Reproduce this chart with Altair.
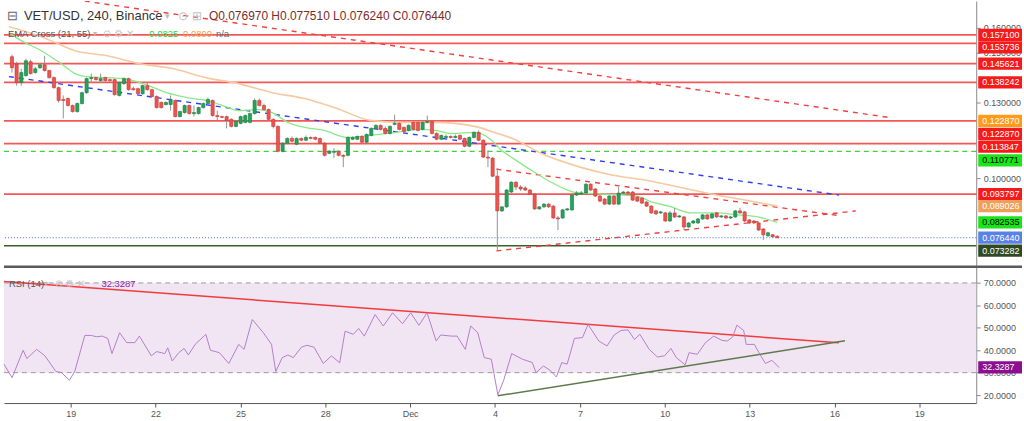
import altair as alt
import pandas as pd

FONT = "Liberation Sans"

# ---------------- data ----------------
# x values are "day" numbers: Nov 19 = 19, Dec 1 = 31, Dec 4 = 34 ...
candle_start = 16.75          # first 240-minute candle
candle_step = 1 / 6           # 4 hours

opens = [0.1484,0.1456,0.1381,0.1409,0.1464,0.1421,0.1440,0.1452,0.1429,0.1401,
         0.1361,0.1314,0.1318,0.1290,0.1266,0.1298,0.1341,0.1397,0.1401,0.1389,
         0.1401,0.1393,0.1393,0.1330,0.1377,0.1397,0.1357,0.1357,0.1337,0.1369,
         0.1353,0.1326,0.1302,0.1294,0.1294,0.1310,0.1246,0.1262,0.1290,0.1258,
         0.1258,0.1282,0.1298,0.1310,0.1250,0.1246,0.1246,0.1235,0.1207,0.1219,
         0.1223,0.1223,0.1258,0.1310,0.1290,0.1274,0.1235,0.1207,0.1108,0.1140,
         0.1159,0.1136,0.1159,0.1152,0.1163,0.1163,0.1159,0.1140,0.1100,0.1104,
         0.1108,0.1092,0.1092,0.1156,0.1156,0.1167,0.1144,0.1171,0.1199,0.1211,
         0.1199,0.1179,0.1215,0.1219,0.1203,0.1191,0.1223,0.1223,0.1195,0.1223,
         0.1227,0.1179,0.1156,0.1163,0.1167,0.1163,0.1171,0.1159,0.1128,0.1163,
         0.1183,0.1152,0.1085,0.1081,0.1009,0.0871,0.0887,0.0946,0.0985,0.0966,
         0.0962,0.0954,0.0938,0.0879,0.0887,0.0898,0.0890,0.0843,0.0843,0.0875,
         0.0875,0.0934,0.0938,0.0942,0.0977,0.0958,0.0930,0.0918,0.0898,0.0930,
         0.0898,0.0942,0.0946,0.0946,0.0926,0.0922,0.0906,0.0890,0.0871,0.0863,
         0.0863,0.0831,0.0863,0.0847,0.0847,0.0807,0.0823,0.0823,0.0839,0.0855,
         0.0843,0.0863,0.0847,0.0851,0.0843,0.0847,0.0871,0.0867,0.0835,0.0831,
         0.0823,0.0799,0.0772,0.0776,0.07697]
highs = [0.1492,0.1464,0.1436,0.1476,0.1472,0.1444,0.1460,0.1488,0.1432,0.1405,
         0.1365,0.1330,0.1322,0.1294,0.1302,0.1345,0.1401,0.1417,0.1405,0.1417,
         0.1405,0.1397,0.1397,0.1385,0.1401,0.1401,0.1365,0.1361,0.1373,0.1381,
         0.1357,0.1330,0.1306,0.1306,0.1330,0.1314,0.1270,0.1294,0.1294,0.1290,
         0.1286,0.1302,0.1322,0.1314,0.1270,0.1250,0.1250,0.1239,0.1231,0.1250,
         0.1254,0.1262,0.1318,0.1318,0.1298,0.1278,0.1239,0.1211,0.1144,0.1163,
         0.1167,0.1163,0.1163,0.1171,0.1167,0.1167,0.1163,0.1144,0.1112,0.1120,
         0.1112,0.1096,0.1167,0.1167,0.1171,0.1171,0.1179,0.1203,0.1215,0.1215,
         0.1207,0.1211,0.1254,0.1223,0.1207,0.1215,0.1227,0.1227,0.1227,0.1250,
         0.1231,0.1183,0.1175,0.1175,0.1171,0.1175,0.1175,0.1163,0.1167,0.1187,
         0.1191,0.1156,0.1112,0.1085,0.1041,0.0890,0.0958,0.0989,0.0989,0.0973,
         0.0969,0.0958,0.0942,0.0890,0.0902,0.0902,0.0894,0.0851,0.0879,0.0883,
         0.0938,0.0950,0.0950,0.0981,0.0981,0.0962,0.0934,0.0922,0.0934,0.0934,
         0.0966,0.0950,0.0950,0.0950,0.0930,0.0926,0.0910,0.0894,0.0875,0.0871,
         0.0867,0.0871,0.0883,0.0855,0.0851,0.0827,0.0835,0.0843,0.0859,0.0859,
         0.0863,0.0867,0.0855,0.0855,0.0851,0.0875,0.0883,0.0871,0.0839,0.0835,
         0.0827,0.0803,0.0788,0.0780,0.07751]
lows = [0.1421,0.1369,0.1369,0.1405,0.1413,0.1417,0.1436,0.1425,0.1397,0.1357,
        0.1302,0.1239,0.1286,0.1262,0.1262,0.1294,0.1337,0.1381,0.1389,0.1381,
        0.1385,0.1385,0.1330,0.1326,0.1373,0.1349,0.1349,0.1333,0.1333,0.1349,
        0.1322,0.1278,0.1278,0.1290,0.1270,0.1243,0.1243,0.1258,0.1254,0.1246,
        0.1254,0.1278,0.1294,0.1246,0.1231,0.1239,0.1199,0.1203,0.1203,0.1215,
        0.1219,0.1219,0.1254,0.1286,0.1270,0.1231,0.1199,0.1104,0.1104,0.1136,
        0.1144,0.1132,0.1148,0.1148,0.1156,0.1152,0.1136,0.1088,0.1096,0.1081,
        0.1088,0.1045,0.1088,0.1152,0.1152,0.1140,0.1140,0.1167,0.1195,0.1191,
        0.1175,0.1175,0.1211,0.1191,0.1183,0.1187,0.1191,0.1187,0.1191,0.1219,
        0.1175,0.1152,0.1152,0.1159,0.1159,0.1159,0.1152,0.1124,0.1124,0.1159,
        0.1148,0.1081,0.1045,0.1005,0.0716,0.0867,0.0883,0.0942,0.0954,0.0950,
        0.0950,0.0934,0.0875,0.0875,0.0883,0.0883,0.0839,0.0795,0.0839,0.0871,
        0.0871,0.0930,0.0934,0.0938,0.0950,0.0926,0.0906,0.0894,0.0894,0.0894,
        0.0894,0.0938,0.0938,0.0910,0.0906,0.0898,0.0887,0.0859,0.0855,0.0859,
        0.0827,0.0827,0.0843,0.0843,0.0795,0.0803,0.0819,0.0819,0.0835,0.0835,
        0.0839,0.0843,0.0843,0.0839,0.0839,0.0843,0.0859,0.0827,0.0819,0.0819,
        0.0791,0.0756,0.0768,0.0764,0.07624]
closes = [0.1440,0.1381,0.1421,0.1468,0.1417,0.1436,0.1452,0.1429,0.1401,0.1361,
          0.1310,0.1310,0.1290,0.1266,0.1298,0.1341,0.1397,0.1401,0.1393,0.1397,
          0.1389,0.1389,0.1333,0.1381,0.1397,0.1353,0.1353,0.1337,0.1369,0.1353,
          0.1326,0.1282,0.1282,0.1302,0.1314,0.1246,0.1266,0.1290,0.1258,0.1262,
          0.1282,0.1298,0.1314,0.1250,0.1246,0.1243,0.1231,0.1207,0.1227,0.1246,
          0.1250,0.1258,0.1310,0.1290,0.1274,0.1235,0.1207,0.1108,0.1140,0.1159,
          0.1148,0.1159,0.1152,0.1163,0.1159,0.1156,0.1140,0.1092,0.1108,0.1108,
          0.1092,0.1088,0.1163,0.1163,0.1167,0.1144,0.1175,0.1199,0.1211,0.1195,
          0.1179,0.1207,0.1219,0.1195,0.1187,0.1211,0.1195,0.1191,0.1223,0.1227,
          0.1179,0.1156,0.1171,0.1167,0.1163,0.1167,0.1156,0.1128,0.1163,0.1183,
          0.1152,0.1085,0.1081,0.1009,0.0871,0.0887,0.0954,0.0985,0.0966,0.0958,
          0.0954,0.0938,0.0879,0.0887,0.0898,0.0887,0.0843,0.0839,0.0875,0.0879,
          0.0934,0.0942,0.0942,0.0977,0.0954,0.0930,0.0910,0.0898,0.0930,0.0898,
          0.0942,0.0946,0.0942,0.0914,0.0910,0.0902,0.0890,0.0863,0.0859,0.0867,
          0.0831,0.0863,0.0847,0.0851,0.0807,0.0823,0.0831,0.0839,0.0855,0.0839,
          0.0859,0.0847,0.0851,0.0843,0.0847,0.0871,0.0863,0.0831,0.0823,0.0823,
          0.0795,0.0776,0.0784,0.0768,0.07644]

ema21_t = [16.64,17.10,17.80,18.51,19.00,19.39,20.16,20.76,21.32,21.81,22.27,22.97,23.68,24.28,
           24.84,25.54,26.04,26.60,27.20,27.90,28.71,29.55,30.47,31.31,31.87,32.47,33.28,33.88,
           34.23,34.69,35.29,35.88,36.59,36.80,37.85,39.05,39.61,40.21,41.02,41.97,42.67,43.38,44.08]
ema21_v = [0.1579,0.1547,0.1508,0.1456,0.1417,0.1405,0.1401,0.1397,0.1381,0.1361,0.1341,0.1322,
           0.1310,0.1290,0.1270,0.1274,0.1262,0.1223,0.1203,0.1191,0.1163,0.1171,0.1183,0.1195,
           0.1191,0.1179,0.1183,0.1152,0.1112,0.1077,0.1033,0.0993,0.0954,0.0946,0.0938,0.0930,
           0.0906,0.0890,0.0863,0.0863,0.0855,0.0847,0.0825]
ema55_t = [16.64,17.70,18.16,19.00,20.16,21.32,22.52,23.68,24.84,26.04,27.20,28.36,29.55,
           30.71,31.87,33.28,33.98,34.69,35.64,37.04,38.21,39.40,40.56,41.72,42.92,44.08]
ema55_v = [0.1603,0.1567,0.1547,0.1508,0.1488,0.1456,0.1436,0.1401,0.1377,0.1341,0.1318,0.1278,
           0.1231,0.1223,0.1223,0.1207,0.1183,0.1156,0.1100,0.1045,0.1013,0.0993,0.0966,0.0938,
           0.0914,0.0890]

rsi_t = [16.64,16.93,17.32,17.45,17.80,18.09,18.48,18.67,18.96,19.15,19.50,19.73,19.92,20.12,
         20.31,20.46,20.73,20.98,21.27,21.43,21.85,22.04,22.33,22.43,22.59,22.82,23.01,23.16,
         23.40,23.78,23.94,24.26,24.59,24.94,25.13,25.42,25.81,26.10,26.25,26.48,26.68,26.87,
         27.16,27.35,27.60,27.93,28.22,28.51,28.70,28.99,29.18,29.38,29.76,30.05,30.38,30.73,
         31.02,31.31,31.60,31.92,32.08,32.46,32.66,32.95,33.14,33.39,33.62,33.87,34.10,34.30,
         34.59,34.97,35.32,35.45,35.71,35.94,36.17,36.36,36.55,36.81,37.09,37.29,37.67,37.96,
         38.21,38.45,38.70,38.93,39.12,39.45,39.74,39.99,40.22,40.41,40.72,40.86,41.15,41.44,
         41.73,42.02,42.21,42.40,42.55,42.79,42.88,43.17,43.36,43.56,43.79,44.04]
rsi_v = [33.8,27.8,40.0,36.3,40.4,37.5,30.5,30.1,26.6,30.8,46.6,46.6,46.0,46.3,
         45.3,38.5,47.8,43.4,43.4,46.3,37.5,39.4,38.5,41.1,35.2,38.9,40.8,37.9,
         42.6,47.1,40.0,38.9,34.1,42.6,40.4,53.7,47.8,42.6,30.5,36.7,37.9,36.7,
         41.4,42.2,41.4,34.1,37.5,34.4,48.5,47.1,49.7,46.3,55.9,50.8,56.7,51.8,
         56.7,51.1,56.7,44.1,46.8,46.3,46.3,40.4,50.8,47.8,36.7,36.0,20.1,26.4,
         38.5,36.0,34.5,30.0,33.0,31.1,28.1,34.5,33.8,45.3,45.6,51.5,44.1,41.9,
         46.8,48.8,49.1,44.8,47.1,40.4,37.0,37.5,40.8,36.7,33.5,38.9,38.2,43.4,
         46.3,44.4,44.1,45.9,51.2,48.8,42.6,42.6,38.2,34.1,35.5,32.3]

red_levels = [0.157100, 0.153736, 0.145621, 0.138242, 0.122870, 0.113847, 0.093797]
green_dashed_level = 0.110771
last_price = 0.076440
low_level = 0.073282

# price trend lines: (id, t1, p1, t2, p2)
red_trends = [
    ("a", 19.35, 0.1705, 48.05, 0.1243),
    ("c", 34.05, 0.1037, 46.37, 0.0851),
    ("d", 34.05, 0.0712, 46.89, 0.0871),
]
blue_trend = [("b", 16.64, 0.1405, 46.29, 0.0934)]
rsi_red_trend = [("r", 16.64, 70.6, 46.15, 43.3)]
rsi_green_trend = [("g", 34.10, 19.7, 46.37, 44.2)]
rsi_band = (30, 70)
rsi_last = 32.3287

# price tags on the right axis: (value, label, fill, text colour, vertical nudge px)
price_tags = [
    (0.157100, "0.157100", "#f71a1a", "white", 0),
    (0.153736, "0.153736", "#f71a1a", "white", 4),
    (0.145621, "0.145621", "#f71a1a", "white", 0),
    (0.138242, "0.138242", "#f71a1a", "white", 0),
    (0.122870, "0.122870", "#ff9a1a", "white", 0),
    (0.122870, "0.122870", "#f71a1a", "white", 13),
    (0.113847, "0.113847", "#f71a1a", "white", 3),
    (0.110771, "0.110771", "#19e619", "black", 9),
    (0.093797, "0.093797", "#f71a1a", "white", 0),
    (0.089026, "0.089026", "#eea05a", "white", 0),
    (0.082535, "0.082535", "#19e619", "black", 0),
    (0.076440, "0.076440", "#5a82e6", "white", 0),
    (0.073282, "0.073282", "#2f4a22", "white", 5),
]

# ---------------- layout ----------------
W = 977
H_TOP = 266
H_BOT = 138
xs = alt.Scale(domain=[16.643, 51.01], nice=False, zero=False)
ps = alt.Scale(domain=[0.0653, 0.17055], nice=False, zero=False)
rs = alt.Scale(domain=[16.45, 77.68], nice=False, zero=False)

p_axis = alt.Axis(orient="right", values=[0.10, 0.13, 0.15, 0.16],
                  format=".6f", title=None, grid=False, tickSize=4, tickColor="#888",
                  domainColor="#888", labelColor="#555", labelFontSize=9, labelFont=FONT,
                  labelPadding=3)
r_axis = alt.Axis(orient="right", values=[20, 30, 40, 50, 60, 70], format=".4f", title=None,
                  grid=False, tickSize=4, tickColor="#888", domainColor="#888",
                  labelColor="#555", labelFontSize=9, labelFont=FONT, labelPadding=3)
x_axis = alt.Axis(values=[19, 22, 25, 28, 31, 34, 37, 40, 43, 46, 49],
                  labelExpr="datum.value == 31 ? 'Dec' : (datum.value > 31 ? '' + (datum.value - 30) : '' + datum.value)",
                  title=None, grid=False, tickSize=4, tickColor="#555", domainColor="#555",
                  labelColor="#555", labelFontSize=9, labelFont=FONT, labelPadding=3)

DUMMY = alt.Data(values=[{"a": 0}])
TAG_SHAPE = "M-1,-0.28L1,-0.28L1,0.28L-1,0.28Z"


def label(txt, x, y, color, size=9.5, weight="normal"):
    return alt.Chart(DUMMY).mark_text(align="left", baseline="middle", fontSize=size,
                                      color=color, font=FONT, fontWeight=weight).encode(
        x=alt.value(x), y=alt.value(y), text=alt.value(txt))


def tag(value, txt, fill, tcol, nudge, scale, axis):
    d = alt.Data(values=[{"v": value, "s": txt}])
    box = alt.Chart(d).mark_point(shape=TAG_SHAPE, size=1936, filled=True, opacity=1,
                                  color=fill, strokeWidth=0, yOffset=nudge).encode(
        x=alt.value(1001), y=alt.Y("v:Q", scale=scale, axis=axis))
    text = alt.Chart(d).mark_text(align="left", baseline="middle", fontSize=9, font=FONT,
                                  color=tcol, yOffset=nudge).encode(
        x=alt.value(983), y=alt.Y("v:Q", scale=scale, axis=axis), text="s:N")
    return [box, text]


def segs(rows):
    return pd.DataFrame([{"id": i, "t": t, "v": v}
                         for (i, t1, p1, t2, p2) in rows for (t, v) in ((t1, p1), (t2, p2))])


n = min(len(opens), len(highs), len(lows), len(closes))
candles = pd.DataFrame({
    "t": [candle_start + i * candle_step for i in range(n)],
    "o": opens[:n], "h": highs[:n], "l": lows[:n], "c": closes[:n],
})

ema21 = pd.DataFrame({"t": ema21_t[:len(ema21_v)], "v": ema21_v[:len(ema21_t)]})
ema55 = pd.DataFrame({"t": ema55_t[:len(ema55_v)], "v": ema55_v[:len(ema55_t)]})
m = min(len(rsi_t), len(rsi_v))
rsi = pd.DataFrame({"t": rsi_t[:m], "v": rsi_v[:m]})

X_top = alt.X("t:Q", scale=xs, axis=None)
Yp = alt.Y("v:Q", scale=ps, axis=p_axis)

# ---------------- top (price) panel ----------------
levels = alt.Chart(pd.DataFrame({"v": red_levels})).mark_rule(
    color="#f23a3a", strokeWidth=1.8, opacity=0.85).encode(y=Yp)
green_dash = alt.Chart(pd.DataFrame({"v": [green_dashed_level]})).mark_rule(
    color="#3fd13f", strokeWidth=1.2, strokeDash=[5, 4]).encode(y=Yp)
last_line = alt.Chart(pd.DataFrame({"v": [last_price]})).mark_rule(
    color="#4a6ee0", strokeWidth=1, strokeDash=[1, 2]).encode(y=Yp)
low_line = alt.Chart(pd.DataFrame({"v": [low_level]})).mark_rule(
    color="#3b5e2b", strokeWidth=1.5).encode(y=Yp)

red_tr = alt.Chart(segs(red_trends)).mark_line(
    color="#f04040", strokeWidth=1.4, strokeDash=[5, 5], clip=True).encode(x=X_top, y=Yp, detail="id:N")
blue_tr = alt.Chart(segs(blue_trend)).mark_line(
    color="#2f3ff0", strokeWidth=1.4, strokeDash=[5, 5], clip=True).encode(x=X_top, y=Yp, detail="id:N")

ema55_line = alt.Chart(ema55).mark_line(color="#f6c9a0", strokeWidth=1.6, clip=True,
                                        interpolate="monotone").encode(x=X_top, y=Yp)
ema21_line = alt.Chart(ema21).mark_line(color="#8be88b", strokeWidth=1.3, clip=True,
                                        interpolate="monotone").encode(x=X_top, y=Yp)

cbase = alt.Chart(candles)
wicks = cbase.mark_rule(color="#8d9591", strokeWidth=1).encode(
    x=X_top, y=alt.Y("l:Q", scale=ps, axis=p_axis), y2="h:Q")
up_bodies = cbase.transform_filter("datum.c >= datum.o").mark_bar(
    width=3.2, strokeWidth=0.6, color="#23a559", stroke="#1b7a43").encode(
    x=X_top, y=alt.Y("o:Q", scale=ps, axis=p_axis), y2="c:Q")
down_bodies = cbase.transform_filter("datum.c < datum.o").mark_bar(
    width=3.2, strokeWidth=0.6, color="#f0524f", stroke="#c23b33").encode(
    x=X_top, y=alt.Y("o:Q", scale=ps, axis=p_axis), y2="c:Q")

top_layers = [levels, green_dash, last_line, low_line, red_tr, blue_tr, ema55_line, ema21_line,
              wicks, up_bodies, down_bodies]
for (v, s, f, tc, nd) in price_tags:
    top_layers += tag(v, s, f, tc, nd, ps, p_axis)

top_layers += [
    label("⊟", 3, 15, "#666", size=13),
    label("VET/USD, 240, Binance", 20, 15, "#333", size=13),
    label("▾", 162, 15, "#bbb", size=9),
    label("⊙", 175, 15, "#c4c4c4", size=12),
    label("⊞", 189, 15, "#c4c4c4", size=12),
    label("O0.076970 H0.077510 L0.076240 C0.076440", 206, 15, "#7b2c2c", size=12),
    label("EMA Cross (21, 55)", 4, 33, "#555", size=9.5),
    label("▾", 89, 33, "#bbb", size=8),
    label("⊙  ⚙  ✕", 100, 33, "#c4c4c4", size=10),
    label("0.0825", 146, 33, "#2fd42f", size=9.5),
    label("0.0890", 180, 33, "#f2a04c", size=9.5),
    label("n/a", 213, 33, "#666", size=9.5),
]

top = alt.layer(*top_layers).properties(width=W, height=H_TOP)

# ---------------- bottom (RSI) panel ----------------
X_bot = alt.X("t:Q", scale=xs, axis=x_axis)
Yr = alt.Y("v:Q", scale=rs, axis=r_axis)

band = alt.Chart(pd.DataFrame({"hi": [rsi_band[1]], "lo": [rsi_band[0]]})).mark_rect(
    color="#f1e4f3").encode(x=alt.value(0), x2=alt.value(W),
                           y=alt.Y("hi:Q", scale=rs, axis=r_axis), y2="lo:Q")
band_lines = alt.Chart(pd.DataFrame({"v": list(rsi_band)})).mark_rule(
    color="#9a9a9a", strokeWidth=1, strokeDash=[5, 4]).encode(y=Yr)
rsi_red = alt.Chart(segs(rsi_red_trend)).mark_line(color="#f03c3c", strokeWidth=1.5).encode(
    x=X_bot, y=Yr, detail="id:N")
rsi_green = alt.Chart(segs(rsi_green_trend)).mark_line(color="#5e7a4c", strokeWidth=1.5).encode(
    x=X_bot, y=Yr, detail="id:N")
rsi_line = alt.Chart(rsi).mark_line(color="#b47fcb", strokeWidth=1).encode(x=X_bot, y=Yr)
separator = alt.Chart(DUMMY).mark_rule(color="#5a5a5a", strokeWidth=2.5).encode(
    x=alt.value(0), x2=alt.value(1023), y=alt.value(1))

bot_layers = [band, band_lines, rsi_red, rsi_green, rsi_line, separator]
bot_layers += tag(rsi_last, "32.3287", "#8b0f8f", "white", 0, rs, r_axis)
bot_layers += [
    label("RSI (14)", 5, 18, "#555", size=9.5),
    label("▾", 40, 18, "#bbb", size=8),
    label("⊙  ⚙  ✕", 51, 18, "#c4c4c4", size=10),
    label("32.3287", 98, 18, "#8e24aa", size=9.5),
]
bottom = alt.layer(*bot_layers).properties(width=W, height=H_BOT)

chart = alt.vconcat(top, bottom, spacing=0, bounds="flush").properties(
    padding=0, background="white").configure_view(stroke=None)

chart.save("out.html", embed_options={"renderer": "svg", "actions": False})
